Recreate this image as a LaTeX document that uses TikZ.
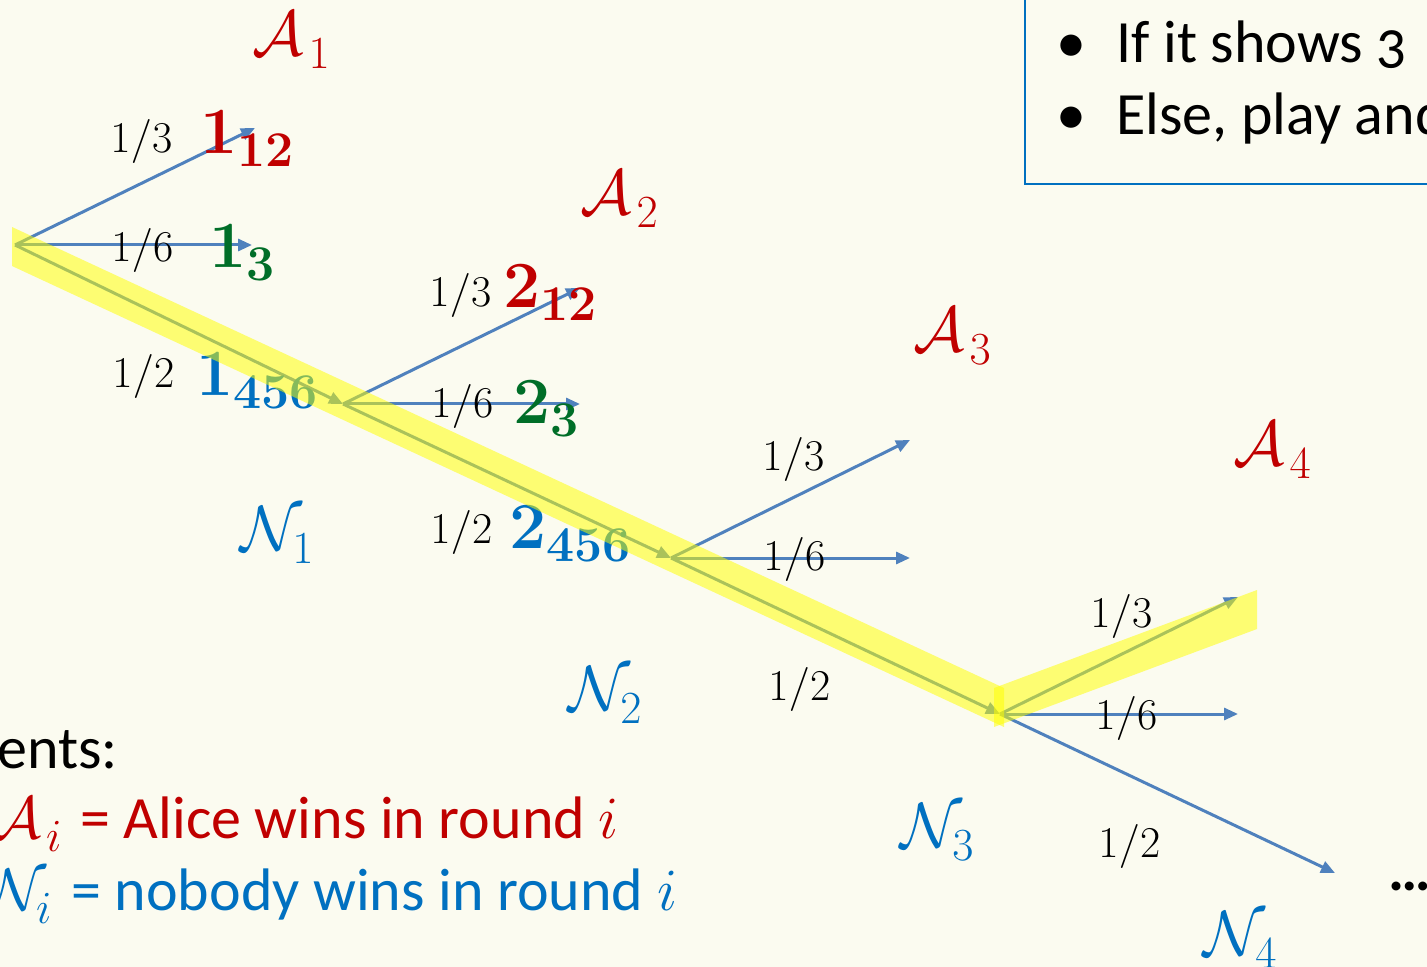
\RequirePackage{fix-cm}
\documentclass[tikz,border=0pt]{standalone}
\usepackage[no-math]{fontspec}
\setmainfont{Carlito}[Numbers=OldStyle]
\usepackage{xcolor}
\usetikzlibrary{arrows.meta, positioning}
\definecolor{SlideBg}{RGB}{251,251,240}
\definecolor{WinRed}{RGB}{192,0,0}
\definecolor{ThreeGreen}{RGB}{0,110,40}
\definecolor{NoneBlue}{RGB}{0,112,192}
\definecolor{BranchBlue}{RGB}{79,129,189}
\definecolor{MarkYellow}{RGB}{255,255,0}
% event letter with a large, low index
\newcommand{\evt}[3][2.5pt]{$\mathcal{#2}$\kern#1\raisebox{-6.5pt}{\fontsize{23}{23}\selectfont$#3$}}
% die face with the round number and the faces that were thrown
\newcommand{\dieout}[2]{$\mathbf{#1}$\raisebox{-6.5pt}{\fontsize{25}{25}\selectfont$\mathbf{#2}$}}

\begin{document}
\begin{tikzpicture}[
    x=0.5pt, y=-0.5pt,
    txt/.style={inner sep=0pt, anchor=base west},
    prob/.style={txt, font=\fontsize{22}{26}\selectfont},
    face/.style={txt, font=\fontsize{33}{40}\selectfont},
    event/.style={txt, font=\fontsize{32}{38}\selectfont},
    slidetext/.style={txt, font=\fontsize{30}{36}\selectfont},
    branch/.style={-{Triangle[length=7pt, width=6pt]}, line width=1.5pt, BranchBlue},
    hilite/.style={fill=MarkYellow, fill opacity=0.52}
]
\useasboundingbox (0,0) rectangle (1427,967);
\fill[SlideBg] (0,0) rectangle (1427,967);
\clip (0,0) rectangle (1427,967);

% Rounds of the game
\coordinate (r1) at (15,245);
\coordinate (r2) at (343,404);
\coordinate (r3) at (671,558);
\coordinate (r4) at (1000,714);
\coordinate (r5) at (1335,873);
\coordinate (u1) at (255,128);  \coordinate (s1) at (252,245);
\coordinate (u2) at (580,288);  \coordinate (s2) at (580,404);
\coordinate (u3) at (910,440);  \coordinate (s3) at (910,558);
\coordinate (u4) at (1238,597); \coordinate (s4) at (1238,714);

% Branches
\draw[branch] (r1) -- (u1);
\draw[branch] (r1) -- (s1);
\draw[branch] (r1) -- (r2);
\draw[branch] (r2) -- (u2);
\draw[branch] (r2) -- (s2);
\draw[branch] (r2) -- (r3);
\draw[branch] (r3) -- (u3);
\draw[branch] (r3) -- (s3);
\draw[branch] (r3) -- (r4);
\draw[branch] (r4) -- (u4);
\draw[branch] (r4) -- (s4);
\draw[branch] (r4) -- (r5);

% Probabilities
\node[prob] (p13a) at (110,153) {$1/3$};
\node[prob] (p16a) at (111,262) {$1/6$};
\node[prob] (p12a) at (112,387) {$1/2$};
\node[prob] (p13b) at (429,307) {$1/3$};
\node[prob] (p16b) at (431,417) {$1/6$};
\node[prob] (p12b) at (430,543) {$1/2$};
\node[prob] (p13c) at (762,470) {$1/3$};
\node[prob] (p16c) at (763,570) {$1/6$};
\node[prob] (p12c) at (768,700) {$1/2$};
\node[prob] (p13d) at (1090,627) {$1/3$};
\node[prob] (p16d) at (1095,729) {$1/6$};
\node[prob] (p12d) at (1098,857) {$1/2$};
\node[slidetext] (more) at (1388,890) {\textbf{\ldots}};

% Die outcomes
\node[face, text=WinRed] (f112) at (200,154) {\dieout{1}{12}};
\node[face, text=ThreeGreen] (f13) at (209,268) {\dieout{1}{3}};
\node[face, text=NoneBlue] (f1456) at (196,395) {\dieout{1}{456}};
\node[face, text=WinRed] (f212) at (503,308) {\dieout{2}{12}};
\node[face, text=ThreeGreen] (f23) at (513,423) {\dieout{2}{3}};
\node[face, text=NoneBlue] (f2456) at (509,548) {\dieout{2}{456}};

% Events
\node[event, text=WinRed] (A1) at (252,56) {\evt{A}{1}};
\node[event, text=WinRed] (A2) at (580,215) {\evt{A}{2}};
\node[event, text=WinRed] (A3) at (913,352) {\evt{A}{3}};
\node[event, text=WinRed] (A4) at (1233,465) {\evt{A}{4}};
\node[event, text=NoneBlue] (N1) at (240,550) {\evt[-5pt]{N}{1}};
\node[event, text=NoneBlue] (N2) at (568,710) {\evt[-5pt]{N}{2}};
\node[event, text=NoneBlue] (N3) at (900,847) {\evt[-5pt]{N}{3}};
\node[event, text=NoneBlue] (N4) at (1203,955) {\evt[-5pt]{N}{4}};

% Legend
\node[slidetext] (ents) at (-3,768) {ents:};
\node[slidetext, text=WinRed, anchor=base east] (symA) at (62,838) {\evt{A}{i}};
\node[slidetext, text=WinRed] (defA) at (80,838) {= Alice wins in round $i$};
\node[slidetext, text=NoneBlue, anchor=base east] (symN) at (52,910) {\evt[-5pt]{N}{i}};
\node[slidetext, text=NoneBlue] (defN) at (71,910) {= nobody wins in round $i$};

% Rules box
\draw[NoneBlue, line width=0.8pt] (1025,-5) -- (1025,184) -- (1432,184);
\node[slidetext] (rule1) at (1056,63) {\makebox[30pt][l]{\textbullet}If it shows 3};
\node[slidetext] (rule2) at (1056,135) {\makebox[30pt][l]{\textbullet}Else, play and};

% Highlighted path
\fill[hilite] (12,227) -- (1004,688) -- (1004,727) -- (12,266) -- cycle;
\fill[hilite] (994,688) -- (1257,590) -- (1257,629) -- (994,727) -- cycle;

\end{tikzpicture}
\end{document}
